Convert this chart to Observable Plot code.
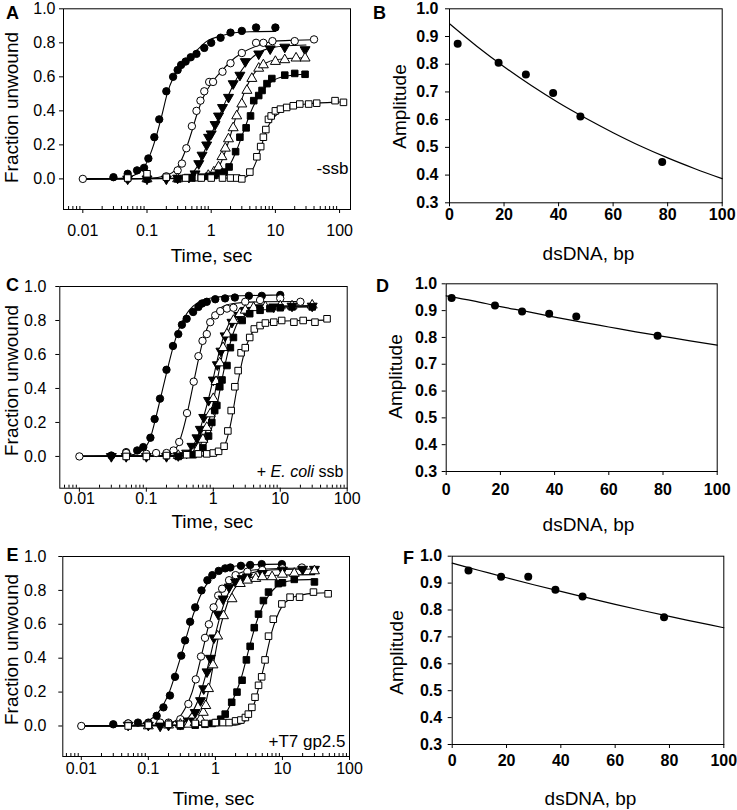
<!DOCTYPE html>
<html>
<head>
<meta charset="utf-8">
<script src="https://cdn.jsdelivr.net/npm/d3@7"></script>
<script src="https://cdn.jsdelivr.net/npm/@observablehq/plot@0.6"></script>
<style>
  body { margin: 0; background: #fff; }
  #fig { position: relative; width: 737px; height: 810px; background: #fff; overflow: hidden; }
  #fig svg { position: absolute; }
</style>
</head>
<body>
<div id="fig"></div>
<script>
// ---------------- tick labels ----------------
const timeTicks = [0.01, 0.1, 1, 10, 100];
const timeTickLabels = ["0.01", "0.1", "1", "10", "100"];
const fracTicks = [0, 0.2, 0.4, 0.6, 0.8, 1.0];
const bpTicks = [0, 20, 40, 60, 80, 100];
const ampTicks = [0.3, 0.4, 0.5, 0.6, 0.7, 0.8, 0.9, 1.0];

// ---------------- Panel A (-ssb): [time s, fraction unwound] ----------------
const A1 = [[0.03,0.01],[0.05,0.03],[0.07,0.05],[0.09,0.065],[0.105,0.12],[0.13,0.245],[0.155,0.35],[0.2,0.515],[0.255,0.60],[0.3,0.64],[0.34,0.67],[0.4,0.69],[0.48,0.715],[0.59,0.735],[0.78,0.77],[1.0,0.80],[1.4,0.83],[2,0.86],[3,0.87],[5,0.89],[10,0.89]];
const A2 = [[0.01,0],[0.05,0.0],[0.1,0.0],[0.2,0.015],[0.3,0.05],[0.35,0.09],[0.41,0.18],[0.5,0.31],[0.59,0.40],[0.68,0.46],[0.78,0.515],[0.93,0.57],[1.07,0.57],[1.5,0.63],[2,0.68],[3,0.74],[5,0.80],[6.5,0.80],[9,0.81],[20,0.81],[40,0.82]];
const A3 = [[0.05,0.0],[0.1,0.0],[0.2,0.0],[0.3,0.005],[0.45,0.01],[0.56,0.03],[0.64,0.09],[0.72,0.14],[0.85,0.2],[0.91,0.245],[1.0,0.265],[1.15,0.32],[1.3,0.37],[1.5,0.42],[1.86,0.48],[2.2,0.56],[2.8,0.61],[3.4,0.69],[5.5,0.735],[8.3,0.765],[14,0.775],[29,0.76]];
const A4 = [[0.1,0],[0.3,0],[0.6,0.005],[0.9,0.02],[1.1,0.04],[1.3,0.07],[1.47,0.13],[1.66,0.18],[1.86,0.235],[2.2,0.30],[2.5,0.37],[3.0,0.44],[3.6,0.52],[4.3,0.59],[5.5,0.65],[6.5,0.67],[10,0.69],[14,0.70],[21,0.71],[29,0.71]];
const A5 = [[0.1,0],[0.3,0],[0.5,0.005],[0.7,0.01],[0.9,0.015],[1.1,0.02],[1.3,0.03],[1.6,0.04],[1.9,0.07],[2.4,0.16],[2.8,0.245],[3.5,0.30],[4.1,0.37],[4.6,0.46],[5.5,0.49],[6.2,0.52],[7.4,0.56],[8.8,0.59],[14,0.61],[20,0.62],[29,0.615]];
const A6 = [[0.05,0.005],[0.1,0.03],[0.2,0.01],[0.4,0.005],[0.7,0.005],[1,0.005],[1.5,0.005],[2,0.005],[2.5,0.005],[3,0],[4,0.04],[5.15,0.13],[5.9,0.19],[6.5,0.245],[7.1,0.29],[7.8,0.35],[8.6,0.37],[10,0.40],[12,0.41],[15,0.42],[19,0.43],[24,0.44],[33,0.44],[44,0.445],[85,0.46],[115,0.45]];
// fitted curves
const A1fit = [[0.01,0],[0.03,0.002],[0.05,0.01],[0.07,0.03],[0.09,0.068],[0.113,0.147],[0.143,0.265],[0.172,0.38],[0.206,0.5],[0.26,0.6],[0.37,0.68],[0.53,0.735],[0.86,0.81],[1.4,0.84],[2,0.855],[4,0.865],[10,0.867]];
const A2fit = [[0.01,0],[0.1,0.002],[0.2,0.02],[0.3,0.07],[0.4,0.17],[0.5,0.28],[0.6,0.38],[0.8,0.5],[1,0.56],[1.5,0.64],[2,0.69],[3,0.74],[5,0.78],[10,0.81],[20,0.815],[40,0.818]];
const A3fit = [[0.01,0],[0.3,0.002],[0.45,0.02],[0.6,0.07],[0.8,0.17],[1,0.26],[1.3,0.36],[1.7,0.46],[2.2,0.55],[3,0.64],[4,0.70],[6,0.75],[10,0.775],[20,0.785],[30,0.787]];
const A4fit = [[0.01,0],[0.8,0.002],[1.1,0.03],[1.4,0.09],[1.8,0.2],[2.2,0.31],[2.7,0.42],[3.3,0.51],[4,0.58],[5,0.635],[7,0.68],[10,0.70],[20,0.71],[30,0.712]];
const A5fit = [[0.01,0],[1,0.005],[1.5,0.03],[2,0.09],[2.5,0.17],[3,0.25],[3.5,0.32],[4,0.38],[5,0.46],[6,0.51],[8,0.56],[10,0.585],[15,0.605],[30,0.615]];
const A6fit = [[0.01,0],[3,0.005],[4,0.03],[5,0.1],[6,0.19],[7,0.27],[8,0.32],[10,0.37],[12,0.395],[15,0.415],[20,0.43],[30,0.44],[50,0.447],[100,0.452],[120,0.453]];

// ---------------- Panel C (+E. coli ssb) ----------------
const C1 = [[0.03,0.005],[0.05,0.025],[0.073,0.035],[0.09,0.055],[0.115,0.11],[0.133,0.22],[0.16,0.34],[0.2,0.51],[0.25,0.65],[0.3,0.72],[0.34,0.775],[0.4,0.81],[0.5,0.85],[0.6,0.88],[0.68,0.90],[0.8,0.91],[1.07,0.925],[1.5,0.93],[2.1,0.935],[3.4,0.945],[5.3,0.945],[10,0.95]];
const C2 = [[0.01,0],[0.05,0.02],[0.1,0.015],[0.14,0.02],[0.2,0.02],[0.255,0.035],[0.31,0.085],[0.405,0.255],[0.51,0.44],[0.6,0.59],[0.69,0.68],[0.8,0.72],[0.9,0.79],[1.07,0.83],[1.27,0.855],[1.6,0.87],[2,0.875],[3,0.91],[5,0.92],[10,0.93],[20,0.91]];
const C3 = [[0.03,0],[0.05,0],[0.1,0],[0.2,0],[0.3,0.005],[0.4,0.02],[0.48,0.06],[0.57,0.11],[0.64,0.16],[0.72,0.23],[0.85,0.33],[1.0,0.45],[1.15,0.54],[1.3,0.62],[1.5,0.71],[1.9,0.79],[2.4,0.83],[3,0.86],[5,0.875],[8,0.88],[15,0.885],[30,0.885]];
const C4 = [[0.3,0.005],[0.5,0.02],[0.6,0.05],[0.7,0.1],[0.8,0.17],[0.9,0.25],[1.0,0.34],[1.1,0.44],[1.25,0.55],[1.4,0.64],[1.6,0.72],[2,0.8],[2.5,0.84],[3,0.86],[4,0.875],[6,0.88],[10,0.885],[15,0.885],[30,0.89]];
const C5 = [[0.3,0],[0.5,0.01],[0.7,0.05],[0.85,0.12],[0.95,0.2],[1.05,0.27],[1.13,0.3],[1.25,0.41],[1.35,0.45],[1.6,0.535],[1.8,0.64],[2,0.70],[2.7,0.80],[3.5,0.84],[5,0.86],[7,0.87],[10,0.875],[15,0.88],[30,0.88]];
const C6 = [[0.05,0],[0.1,0],[0.2,0.005],[0.4,0.01],[0.6,0.015],[0.8,0.015],[1.0,0.02],[1.2,0.03],[1.45,0.06],[1.65,0.15],[1.85,0.27],[2.1,0.41],[2.35,0.505],[2.6,0.61],[3.0,0.64],[3.5,0.70],[4.1,0.75],[5,0.77],[6,0.785],[8,0.79],[10.5,0.80],[16,0.79],[22,0.80],[33,0.79],[50,0.81]];
const C1fit = [[0.01,0],[0.05,0.005],[0.08,0.025],[0.1,0.06],[0.115,0.11],[0.133,0.2],[0.16,0.33],[0.2,0.49],[0.25,0.64],[0.3,0.74],[0.4,0.84],[0.5,0.885],[0.7,0.92],[1,0.935],[2,0.945],[5,0.948],[10,0.95]];
const C2fit = [[0.01,0],[0.15,0.003],[0.25,0.03],[0.3,0.07],[0.35,0.15],[0.4,0.24],[0.5,0.42],[0.6,0.57],[0.7,0.68],[0.8,0.75],[1,0.83],[1.3,0.875],[2,0.9],[5,0.91],[20,0.912]];
const C3fit = [[0.01,0],[0.3,0.003],[0.45,0.04],[0.6,0.13],[0.75,0.26],[0.9,0.38],[1,0.46],[1.2,0.6],[1.5,0.73],[2,0.82],[3,0.865],[5,0.88],[10,0.885],[30,0.886]];
const C4fit = [[0.01,0],[0.4,0.003],[0.55,0.03],[0.7,0.1],[0.85,0.2],[1,0.32],[1.1,0.41],[1.3,0.56],[1.6,0.71],[2,0.8],[3,0.86],[5,0.878],[10,0.884],[30,0.886]];
const C5fit = [[0.01,0],[0.5,0.003],[0.7,0.04],[0.85,0.11],[1,0.2],[1.15,0.31],[1.3,0.42],[1.5,0.54],[1.8,0.67],[2.2,0.77],[3,0.84],[5,0.87],[10,0.878],[30,0.88]];
const C6fit = [[0.01,0],[1,0.003],[1.3,0.03],[1.5,0.07],[1.7,0.14],[1.9,0.23],[2.1,0.33],[2.4,0.46],[2.7,0.56],[3,0.63],[3.5,0.7],[4,0.74],[5,0.77],[7,0.79],[10,0.795],[20,0.8],[50,0.802]];

// ---------------- Panel E (+T7 gp2.5) ----------------
const E1 = [[0.03,0.01],[0.05,0.015],[0.07,0.02],[0.1,0.02],[0.133,0.06],[0.168,0.11],[0.21,0.18],[0.25,0.29],[0.31,0.415],[0.353,0.505],[0.42,0.615],[0.5,0.70],[0.62,0.80],[0.76,0.86],[0.9,0.89],[1.12,0.915],[1.4,0.93],[1.67,0.935],[2.4,0.945],[3.3,0.95],[4.9,0.955],[9.8,0.955]];
const E2 = [[0.01,0],[0.05,0.015],[0.1,0.01],[0.15,0.02],[0.2,0.02],[0.3,0.04],[0.395,0.13],[0.51,0.275],[0.61,0.41],[0.7,0.52],[0.8,0.60],[0.94,0.70],[1.1,0.77],[1.26,0.81],[1.6,0.86],[2,0.89],[3,0.91],[5,0.92],[10,0.93],[19.5,0.935]];
const E3 = [[0.05,0.005],[0.1,0.005],[0.15,0],[0.2,0.005],[0.3,0.01],[0.4,0.03],[0.5,0.08],[0.6,0.15],[0.67,0.22],[0.75,0.32],[0.84,0.40],[0.95,0.52],[1.1,0.66],[1.3,0.75],[1.6,0.82],[2,0.85],[2.5,0.87],[3,0.88],[5,0.9],[10,0.92],[20,0.925],[30,0.925]];
const E4 = [[0.1,0],[0.2,0.005],[0.3,0.01],[0.4,0.01],[0.5,0.02],[0.6,0.04],[0.66,0.08],[0.72,0.12],[0.79,0.22],[0.92,0.36],[1.08,0.53],[1.32,0.65],[1.77,0.75],[2.35,0.84],[3,0.86],[4,0.87],[5,0.88],[7,0.88],[10,0.895],[15,0.90],[30,0.915]];
const E5 = [[0.3,0],[0.5,0.005],[0.7,0.01],[0.9,0.015],[1.05,0.02],[1.2,0.04],[1.4,0.07],[1.75,0.14],[2.1,0.2],[2.5,0.27],[2.9,0.39],[3.3,0.47],[3.8,0.58],[4.4,0.66],[5.2,0.74],[6.2,0.79],[8.7,0.84],[10,0.845],[15,0.865],[30,0.85]];
const E6 = [[0.05,0],[0.1,0.005],[0.2,0.01],[0.3,0.01],[0.5,0.015],[0.7,0.015],[1,0.02],[1.3,0.02],[1.6,0.02],[2,0.03],[2.4,0.035],[2.8,0.05],[3.1,0.07],[3.5,0.11],[3.9,0.17],[4.4,0.24],[4.9,0.29],[5.5,0.39],[6.2,0.53],[7.3,0.63],[9.8,0.72],[13,0.76],[18,0.76],[29,0.79],[48,0.78]];
const E1fit = [[0.01,0],[0.05,0.003],[0.08,0.012],[0.1,0.03],[0.13,0.065],[0.17,0.13],[0.21,0.21],[0.25,0.3],[0.3,0.4],[0.36,0.51],[0.42,0.6],[0.5,0.69],[0.6,0.77],[0.75,0.84],[1,0.9],[1.5,0.935],[3,0.95],[10,0.955]];
const E2fit = [[0.01,0],[0.15,0.005],[0.25,0.03],[0.35,0.1],[0.45,0.2],[0.55,0.33],[0.65,0.45],[0.8,0.6],[1,0.72],[1.3,0.81],[2,0.89],[3,0.915],[5,0.925],[10,0.93],[20,0.932]];
const E3fit = [[0.01,0],[0.25,0.005],[0.35,0.03],[0.45,0.08],[0.55,0.15],[0.65,0.24],[0.75,0.33],[0.85,0.42],[1,0.54],[1.2,0.66],[1.5,0.77],[2,0.85],[3,0.895],[5,0.915],[10,0.923],[30,0.926]];
const E4fit = [[0.01,0],[0.35,0.003],[0.5,0.02],[0.6,0.05],[0.7,0.12],[0.8,0.22],[0.9,0.33],[1,0.43],[1.2,0.59],[1.5,0.72],[2,0.82],[3,0.87],[5,0.885],[10,0.89],[30,0.893]];
const E5fit = [[0.01,0],[0.8,0.005],[1.1,0.03],[1.4,0.07],[1.7,0.13],[2,0.19],[2.5,0.3],[3,0.42],[3.5,0.52],[4,0.6],[5,0.7],[6,0.76],[8,0.82],[10,0.845],[15,0.86],[30,0.865]];
const E6fit = [[0.01,0],[2,0.005],[2.8,0.03],[3.3,0.07],[4,0.16],[4.5,0.24],[5,0.31],[5.5,0.38],[6,0.45],[7,0.56],[8,0.63],[10,0.71],[13,0.75],[20,0.775],[30,0.783],[50,0.786]];

// ---------------- Panels B, D, F: amplitude vs dsDNA length ----------------
const dsDNA_B = [3, 18, 28, 38, 48, 78];
const amp_B = [0.874, 0.805, 0.763, 0.696, 0.611, 0.447];
const dsDNA_D = [2, 18, 28, 38, 48, 78];
const amp_D = [0.947, 0.919, 0.897, 0.888, 0.878, 0.806];
const dsDNA_F = [6, 18, 28, 38, 48, 78];
const amp_F = [0.947, 0.924, 0.924, 0.875, 0.850, 0.773];
const fitLen = [0, 10, 20, 30, 40, 50, 60, 70, 80, 90, 100];
const fitAmp_B = [0.946, 0.865, 0.791, 0.723, 0.661, 0.605, 0.553, 0.505, 0.462, 0.423, 0.387];
const fitAmp_D = [0.955, 0.936, 0.915, 0.896, 0.876, 0.857, 0.839, 0.821, 0.804, 0.787, 0.771];
const fitAmp_F = [0.974, 0.947, 0.920, 0.894, 0.869, 0.845, 0.821, 0.798, 0.776, 0.755, 0.734];

// ---------------- drawing ----------------
const FONT = "'Liberation Sans', Arial, Helvetica, sans-serif";
const triangleDown = {
  draw(ctx, size) {
    const y = -Math.sqrt(size / (3 * Math.sqrt(3)));
    ctx.moveTo(0, -2 * y);
    ctx.lineTo(-Math.sqrt(3) * y, y);
    ctx.lineTo(Math.sqrt(3) * y, y);
    ctx.closePath();
  }
};
const MARKERS = [
  {symbol: "circle", fill: "black"},
  {symbol: "circle", fill: "white"},
  {symbol: triangleDown, fill: "black"},
  {symbol: "triangle", fill: "white"},
  {symbol: "square", fill: "black"},
  {symbol: "square", fill: "white"}
];
const minorTicks = [];
for (const dec of [0.001, 0.01, 0.1, 1, 10, 100]) for (let k = 2; k <= 9; k++) minorTicks.push(+(dec * k).toPrecision(3));

function textMaker(ml, mt) {
  return (s, x, y, o = {}) => Plot.text([s], {
    text: d => d, frameAnchor: "top-left", dx: x - ml, dy: y - mt,
    textAnchor: "start", lineAnchor: "bottom", fill: "black", fontFamily: FONT, ...o
  });
}

function kinetic(c) {
  const ml = c.fx[0], mr = c.w - c.fx[1], mt = c.fy[0], mb = c.h - c.fy[1];
  const T = textMaker(ml, mt);
  const minors = minorTicks.filter(d => d > c.xdom[0] && d < c.xdom[1] && !timeTicks.includes(d));
  return Plot.plot({
    width: c.w, height: c.h,
    marginLeft: ml, marginRight: mr, marginTop: mt, marginBottom: mb,
    style: {fontFamily: FONT, fontSize: "16px", color: "black", background: "transparent"},
    x: {type: "log", domain: c.xdom},
    y: {domain: c.ydom},
    marks: [
      Plot.axisY(fracTicks, {tickSize: 4, tickPadding: c.yPad, tickFormat: d => d.toFixed(1), fontSize: 16, fontFamily: FONT, label: null}),
      Plot.axisX(timeTicks, {tickSize: 4, tickPadding: c.xPad, tickFormat: d => timeTickLabels[timeTicks.indexOf(d)], fontSize: 16, fontFamily: FONT, label: null}),
      Plot.axisX(minors, {tickSize: 3, dy: -3, tickFormat: () => "", label: null}),
      Plot.frame({stroke: "black", strokeWidth: 1}),
      ...c.fits.map(f => Plot.line(f, {x: d => d[0], y: d => d[1], curve: "monotone-x", stroke: "black", strokeWidth: 1.1})),
      ...c.pts.map((s, i) => Plot.dot(s, {x: d => d[0], y: d => d[1], r: 3.7, symbol: MARKERS[i].symbol, fill: MARKERS[i].fill, stroke: "black", strokeWidth: 1})),
      T(c.letter, c.lp[0], c.lp[1], {fontWeight: "bold", fontSize: 18}),
      T("Fraction unwound", c.yl[0], c.yl[1], {rotate: -90, textAnchor: "middle", fontSize: 19}),
      T("Time, sec", c.xl[0], c.xl[1], {textAnchor: "middle", fontSize: 19}),
      T(c.note, c.np[0], c.np[1], {textAnchor: "end", fontSize: c.noteSize})
    ]
  });
}

function amplitude(c) {
  const ml = c.fx[0], mr = c.w - c.fx[1], mt = c.fy[0], mb = c.h - c.fy[1];
  const T = textMaker(ml, mt);
  return Plot.plot({
    width: c.w, height: c.h,
    marginLeft: ml, marginRight: mr, marginTop: mt, marginBottom: mb,
    style: {fontFamily: FONT, fontSize: "16px", color: "black", background: "transparent"},
    x: {domain: [0, 100]},
    y: {domain: [0.3, 1.0]},
    marks: [
      Plot.axisY(ampTicks, {tickSize: 4, tickPadding: c.yPad, tickFormat: d => d.toFixed(1), fontSize: 16, fontWeight: "bold", fontFamily: FONT, label: null}),
      Plot.axisX(bpTicks, {tickSize: 4, tickPadding: c.xPad, tickFormat: d => String(d), fontSize: 16, fontWeight: "bold", fontFamily: FONT, label: null}),
      Plot.frame({stroke: "black", strokeWidth: 1}),
      Plot.line(c.fitY, {x: (d, i) => fitLen[i], y: d => d, stroke: "black", strokeWidth: 1.2, curve: "monotone-x"}),
      Plot.dot(c.amp, {x: (d, i) => c.len[i], y: d => d, r: 4, fill: "black", stroke: "none"}),
      T(c.letter, c.lp[0], c.lp[1], {fontWeight: "bold", fontSize: 18}),
      T("Amplitude", c.yl[0], c.yl[1], {rotate: -90, textAnchor: "middle", fontSize: 19}),
      T("dsDNA, bp", c.xl[0], c.xl[1], {textAnchor: "middle", fontSize: 19})
    ]
  });
}

const fig = document.getElementById("fig");
function place(svg, left, top) {
  svg.style.left = left + "px";
  svg.style.top = top + "px";
  fig.appendChild(svg);
}

place(kinetic({
  w: 368, h: 268, fx: [63, 350], fy: [8.3, 209], xdom: [0.005, 148], ydom: [-0.18, 1.0],
  yPad: 4, xPad: 11.3,
  pts: [A1, A2, A3, A4, A5, A6], fits: [A1fit, A2fit, A3fit, A4fit, A5fit, A6fit],
  letter: "A", lp: [5.5, 18.5], yl: [17.5, 107], xl: [211, 261],
  note: "-ssb", np: [348, 173], noteSize: 17
}), 0, 0);

place(kinetic({
  w: 368, h: 268, fx: [59.3, 346.7], fy: [18, 219.7], xdom: [0.0051, 100], ydom: [-0.187, 1.0],
  yPad: 9.5, xPad: 0.3,
  pts: [C1, C2, C3, C4, C5, C6], fits: [C1fit, C2fit, C3fit, C4fit, C5fit, C6fit],
  letter: "C", lp: [5.5, 22.7], yl: [17.5, 112], xl: [211.7, 259],
  note: "+ E. coli ssb", np: [343, 208], noteSize: 16
}), 0, 268);

place(kinetic({
  w: 368, h: 274, fx: [62.3, 349], fy: [20, 220], xdom: [0.0053, 100], ydom: [-0.18, 1.0],
  yPad: 12.5, xPad: 2.2,
  pts: [E1, E2, E3, E4, E5, E6], fits: [E1fit, E2fit, E3fit, E4fit, E5fit, E6fit],
  letter: "E", lp: [6, 24], yl: [17.5, 113], xl: [213, 268],
  note: "+T7 gp2.5", np: [345, 210], noteSize: 17
}), 0, 536);

place(amplitude({
  w: 369, h: 268, fx: [81, 353.7], fy: [8.3, 202.3], yPad: 7, xPad: 2.3,
  len: dsDNA_B, amp: amp_B, fitY: fitAmp_B,
  letter: "B", lp: [4.5, 18.5], yl: [37, 106], xl: [220, 259]
}), 368, 0);

place(amplitude({
  w: 369, h: 268, fx: [77.7, 348.7], fy: [15.3, 203], yPad: 5, xPad: 8.6,
  len: dsDNA_D, amp: amp_D, fitY: fitAmp_D,
  letter: "D", lp: [7.5, 23.5], yl: [34, 108], xl: [220, 262]
}), 368, 268);

place(amplitude({
  w: 369, h: 274, fx: [83.7, 355.3], fy: [19.7, 208], yPad: 6, xPad: 6.6,
  len: dsDNA_F, amp: amp_F, fitY: fitAmp_F,
  letter: "F", lp: [34.5, 27], yl: [35, 116], xl: [222, 268]
}), 368, 536);

// italic species name inside the panel C annotation
for (const el of fig.querySelectorAll("text")) {
  if (el.textContent === "+ E. coli ssb") {
    el.textContent = "";
    const ns = "http://www.w3.org/2000/svg";
    const a = document.createElementNS(ns, "tspan"); a.textContent = "+ ";
    const b = document.createElementNS(ns, "tspan"); b.textContent = "E. coli"; b.setAttribute("font-style", "italic");
    const c = document.createElementNS(ns, "tspan"); c.textContent = " ssb";
    el.append(a, b, c);
  }
}
</script>
</body>
</html>
